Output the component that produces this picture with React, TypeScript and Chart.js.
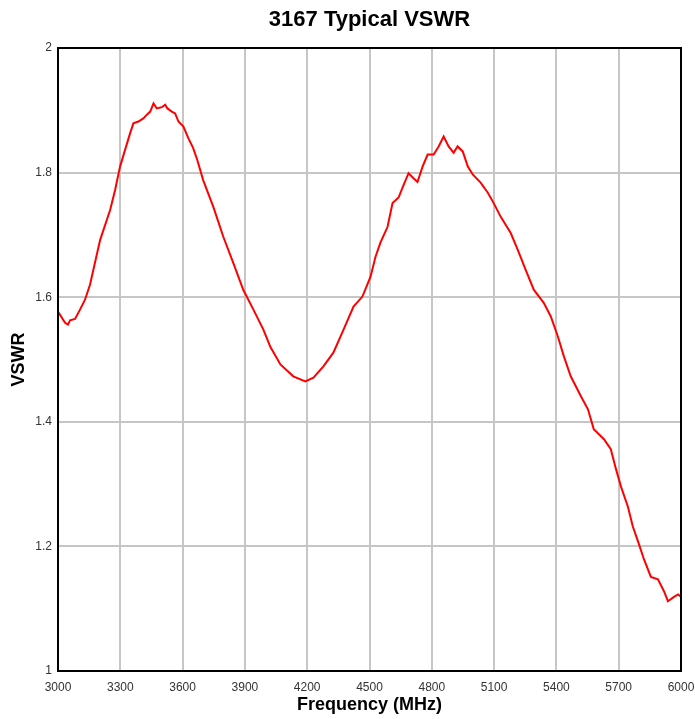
import React, { useEffect, useRef } from "react";
import { Chart, registerables } from "chart.js";

Chart.register(...registerables);

const chartTitle = "3167 Typical VSWR";
const xTitle = "Frequency (MHz)";
const yTitle = "VSWR";

const xTicks = [3000, 3300, 3600, 3900, 4200, 4500, 4800, 5100, 5400, 5700, 6000];
const yTicks = [1, 1.2, 1.4, 1.6, 1.8, 2];

const frequencies = [
  3000, 3034, 3048, 3058, 3082, 3106, 3130, 3154, 3203, 3251, 3275, 3299, 3347, 3363, 3387, 3411,
  3428, 3444, 3460, 3476, 3500, 3516, 3527, 3548, 3564, 3580, 3604, 3628, 3650, 3670, 3699, 3748,
  3796, 3844, 3892, 3941, 3989, 4023, 4071, 4133, 4191, 4230, 4278, 4326, 4375, 4423, 4466, 4505,
  4529, 4553, 4587, 4611, 4640, 4664, 4688, 4712, 4731, 4756, 4780, 4809, 4833, 4857, 4881, 4905,
  4924, 4949, 4973, 4997, 5035, 5069, 5098, 5132, 5180, 5214, 5252, 5291, 5339, 5373, 5407, 5436,
  5469, 5518, 5552, 5580, 5629, 5662, 5687, 5711, 5744, 5768, 5793, 5822, 5855, 5889, 5918, 5937,
  5966, 5986, 6000,
];

const vswr = [
  1.577, 1.559, 1.556, 1.563, 1.565, 1.58, 1.596, 1.62, 1.692, 1.74, 1.772, 1.81, 1.863, 1.879, 1.882, 1.887,
  1.893, 1.898, 1.911, 1.903, 1.905, 1.909, 1.903, 1.898, 1.895, 1.882, 1.874, 1.855, 1.84, 1.821, 1.788, 1.745,
  1.697, 1.655, 1.612, 1.58, 1.548, 1.52, 1.492, 1.473, 1.465, 1.471, 1.489, 1.511, 1.548, 1.585, 1.601, 1.633,
  1.665, 1.688, 1.713, 1.751, 1.76, 1.78, 1.799, 1.791, 1.785, 1.81, 1.829, 1.829, 1.842, 1.858, 1.842, 1.832,
  1.842, 1.834, 1.81, 1.797, 1.784, 1.768, 1.751, 1.729, 1.703, 1.676, 1.644, 1.612, 1.591, 1.569, 1.537, 1.505,
  1.473, 1.441, 1.42, 1.388, 1.372, 1.356, 1.324, 1.296, 1.264, 1.232, 1.208, 1.179, 1.151, 1.147, 1.128, 1.112,
  1.119, 1.123, 1.119,
];

const FONT = 'Arial, "Liberation Sans", sans-serif';

export default function App() {
  const ref = useRef<HTMLCanvasElement | null>(null);

  useEffect(() => {
    if (!ref.current) return;
    const borderPlugin = {
      id: "plotBorder",
      afterDatasetsDraw(chart: any) {
        const { ctx, chartArea } = chart;
        ctx.save();
        ctx.strokeStyle = "#000";
        ctx.lineWidth = 2;
        ctx.strokeRect(chartArea.left, chartArea.top, chartArea.right - chartArea.left, chartArea.bottom - chartArea.top);
        ctx.restore();
      },
    };
    const bgPlugin = {
      id: "bg",
      beforeDraw(chart: any) {
        const { ctx } = chart;
        ctx.save();
        ctx.fillStyle = "#fff";
        ctx.fillRect(0, 0, chart.width, chart.height);
        ctx.restore();
      },
    };
    const chart = new Chart(ref.current, {
      type: "line",
      data: {
        datasets: [
          {
            data: frequencies.map((f, i) => ({ x: f, y: vswr[i] })),
            borderColor: "#ff0000",
            borderWidth: 2,
            pointRadius: 0,
            tension: 0,
            fill: false,
          },
        ],
      },
      options: {
        animation: false,
        responsive: false,
        layout: { padding: { left: 0, right: 14, top: 0, bottom: 0 } },
        plugins: {
          legend: { display: false },
          tooltip: { enabled: false },
          title: {
            display: true,
            text: chartTitle,
            fullSize: false,
            color: "#000",
            font: { family: FONT, size: 22, weight: "bold" },
            padding: { top: 7, bottom: 14.6 },
          },
        },
        scales: {
          x: {
            type: "linear",
            min: 3000,
            max: 6000,
            afterBuildTicks: (scale: any) => {
              scale.ticks = xTicks.map((v) => ({ value: v }));
            },
            afterFit: (scale: any) => {
              scale.height = 48;
              scale.paddingLeft = 0;
              scale.paddingRight = 0;
            },
            ticks: {
              color: "#333",
              font: { family: FONT, size: 12 },
              padding: 9,
              maxRotation: 0,
              autoSkip: false,
              callback: (v: any) => String(v),
            },
            grid: { color: "#c6c6c6", lineWidth: 2, drawTicks: false },
            border: { display: false },
            title: {
              display: true,
              text: xTitle,
              color: "#000",
              font: { family: FONT, size: 18, weight: "bold" },
              padding: { top: 0, bottom: 3 },
            },
          },
          y: {
            type: "linear",
            min: 1,
            max: 2,
            afterBuildTicks: (scale: any) => {
              scale.ticks = yTicks.map((v) => ({ value: v }));
            },
            afterFit: (scale: any) => {
              scale.width = 58;
              scale.paddingTop = 0;
              scale.paddingBottom = 0;
            },
            ticks: {
              color: "#333",
              font: { family: FONT, size: 12 },
              padding: 6,
              autoSkip: false,
              callback: (v: any) => String(Math.round(v * 10) / 10),
            },
            grid: { color: "#c6c6c6", lineWidth: 2, drawTicks: false },
            border: { display: false },
            title: {
              display: true,
              text: yTitle,
              color: "#000",
              font: { family: FONT, size: 18, weight: "bold" },
              padding: { top: 8, bottom: 0 },
            },
          },
        },
      },
      plugins: [bgPlugin, borderPlugin],
    } as any);
    return () => chart.destroy();
  }, []);

  return (
    <div style={{ position: "fixed", left: 0, top: 0, width: 695, height: 719, background: "#fff" }}>
      <canvas ref={ref} width={695} height={719} style={{ display: "block", width: 695, height: 719 }} />
    </div>
  );
}
